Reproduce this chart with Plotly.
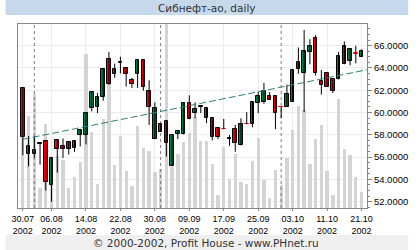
import plotly.graph_objects as go

# ---------------- data ----------------
dates = ["30.07", "31.07",
         "01.08", "02.08", "05.08", "06.08", "07.08", "08.08", "09.08", "12.08", "13.08", "14.08",
         "15.08", "16.08", "19.08", "20.08", "21.08", "22.08", "23.08", "26.08", "27.08", "28.08",
         "29.08", "30.08",
         "02.09", "03.09", "04.09", "05.09", "06.09", "09.09", "10.09", "11.09", "12.09", "13.09",
         "16.09", "17.09", "18.09", "19.09", "20.09", "23.09", "24.09", "25.09", "26.09", "27.09",
         "30.09",
         "01.10", "02.10", "03.10", "04.10", "07.10", "08.10", "09.10", "10.10", "11.10", "14.10",
         "15.10", "16.10", "17.10", "18.10", "21.10"]
year = "2002"

opens = [62.21, 56.98, 56.26, 57.24, 57.44, 53.54, 57.53, 56.98, 57.32, 56.86,
         57.95, 57.95, 60.40, 60.52, 61.43, 64.78, 63.42, 64.48, 64.02, 62.88,
         63.42, 64.69, 61.97, 57.62, 58.95, 59.25, 55.17, 58.04, 58.04, 60.88,
         59.95, 60.56, 60.43, 59.52, 58.62, 58.55, 57.69, 58.53, 57.05, 59.00,
         58.98, 60.88, 60.97, 61.52, 61.52, 60.51, 60.52, 60.97, 63.87, 63.51,
         65.47, 66.68, 62.82, 63.51, 62.97, 62.97, 65.99, 64.60, 65.34, 64.99]
highs = [62.21, 57.89, 57.89, 57.24, 57.44, 55.93, 57.62, 57.68, 57.47, 57.47,
         58.43, 60.00, 61.91, 61.76, 63.93, 65.44, 64.39, 65.02, 64.02, 63.12,
         64.69, 64.69, 62.90, 60.91, 58.95, 59.25, 57.95, 58.34, 60.88, 61.55,
         60.91, 60.56, 60.43, 59.52, 58.62, 59.43, 57.98, 58.89, 59.49, 60.04,
         60.97, 61.85, 62.66, 61.82, 61.52, 60.51, 62.51, 63.84, 65.84, 67.41,
         66.59, 66.95, 63.81, 63.51, 62.97, 65.44, 66.38, 65.78, 65.99, 65.66]
lows = [56.17, 55.17, 55.96, 55.32, 53.00, 52.00, 54.60, 55.93, 56.23, 56.47,
        56.95, 57.14, 60.10, 59.95, 61.06, 62.50, 63.12, 63.51, 62.33, 62.21,
        62.21, 61.97, 58.89, 57.62, 58.28, 56.05, 55.17, 57.62, 58.04, 59.40,
        59.49, 59.95, 59.04, 57.50, 57.62, 58.50, 57.02, 56.47, 57.05, 58.96,
        58.68, 59.95, 60.79, 61.12, 58.50, 59.49, 60.52, 60.97, 63.48, 60.04,
        64.33, 63.33, 61.61, 62.33, 61.76, 62.97, 64.33, 64.24, 64.42, 64.99]
closes = [57.77, 56.26, 56.65, 57.22, 53.81, 55.93, 56.71, 56.71, 56.71, 57.47,
          58.43, 60.00, 61.82, 61.43, 63.93, 62.60, 63.87, 64.57, 63.42, 62.60,
          64.69, 62.30, 60.52, 60.43, 58.28, 57.26, 57.95, 58.34, 60.88, 59.40,
          60.31, 60.54, 59.49, 57.77, 57.83, 58.50, 57.67, 57.29, 58.98, 58.96,
          60.97, 61.52, 61.97, 61.12, 60.00, 60.47, 61.70, 63.84, 64.51, 65.50,
          65.96, 63.57, 62.51, 62.33, 61.97, 65.05, 64.33, 65.69, 65.30, 65.50]
volumes = [228, 276, 342, 61, 252, 138, 155, 145, 61, 94,
           138, 462, 228, 73, 267, 380, 128, 216, 111, 66,
           245, 180, 171, 108, 118, 600, 123, 161, 198, 225,
           273, 201, 201, 131, 39, 183, 87, 162, 78, 72,
           140, 210, 84, 30, 114, 68, 150, 233, 306, 293,
           131, 206, 248, 111, 38, 326, 177, 159, 93, 48]

tick_dates = ["30.07", "06.08", "14.08", "22.08", "30.08", "09.09",
              "17.09", "25.09", "03.10", "11.10", "21.10"]
trend_values = [57.60, 63.74]          # trend line at first and last candle
price_ticks = [52, 54, 56, 58, 60, 62, 64, 66]

# ---------------- styling ----------------
GREEN = "#007f45"
RED = "#ff0000"
VOL = "#d4d4d4"
GRID = "#ececec"
FRAME = "#858585"
W, H = 420, 250
ML, MR, MT, MB = 13, 43, 24, 42
PW, PH = W - ML - MR, H - MT - MB
X_RANGE = [-0.84, 59.95]
Y_RANGE = [51.435, 67.947]
V_RANGE = [0, 552]

n = len(dates)
idx = list(range(n))

fig = go.Figure()

# volume (base axis y, drawn beneath price subplot)
fig.add_trace(go.Bar(x=idx, y=volumes, width=0.58, marker=dict(color=VOL, line=dict(width=0)),
                     yaxis="y", hoverinfo="skip", showlegend=False))

# month separators
mx, my = [], []
for i in range(1, n):
    if dates[i][3:] != dates[i - 1][3:]:
        mx += [i, i, None]
        my += [V_RANGE[0], V_RANGE[1], None]
fig.add_trace(go.Scatter(x=mx, y=my, mode="lines", yaxis="y",
                         line=dict(color="#7a7a7a", width=1, dash="3px,3px"),
                         hoverinfo="skip", showlegend=False))

# wicks
wx, wy = [], []
for i in idx:
    wx += [i, i, None]
    wy += [lows[i], highs[i], None]
fig.add_trace(go.Scatter(x=wx, y=wy, mode="lines", yaxis="y2",
                         line=dict(color="black", width=1), hoverinfo="skip", showlegend=False))

# bodies
base = [min(o, c) for o, c in zip(opens, closes)]
size = [abs(c - o) for o, c in zip(opens, closes)]
fill, edge = [], []
for o, c in zip(opens, closes):
    if abs(c - o) < 0.03:
        fill.append("black"); edge.append("black")
    elif c > o:
        fill.append(GREEN); edge.append("black")
    else:
        fill.append(RED)
        edge.append(RED if abs(c - o) < 0.1 else "black")
fig.add_trace(go.Bar(x=idx, y=size, base=base, width=0.62, yaxis="y2",
                     marker=dict(color=fill, line=dict(color=edge, width=1)),
                     hoverinfo="skip", showlegend=False))

# trend line
slope = (trend_values[1] - trend_values[0]) / (n - 1)
fig.add_trace(go.Scatter(x=[0, X_RANGE[1]],
                         y=[trend_values[0], trend_values[0] + slope * X_RANGE[1]],
                         mode="lines", yaxis="y2",
                         line=dict(color="#2f7f7a", width=1, dash="7px,3px"),
                         hoverinfo="skip", showlegend=False))

tickvals = [dates.index(d) for d in tick_dates]
ticktext = [f"{d}<br>{year}" for d in tick_dates]

def px_x(p):
    return (p - ML) / PW

def px_y(p):
    return (H - MB - p) / PH

fig.update_layout(
    width=W, height=H,
    margin=dict(l=ML, r=MR, t=MT, b=MB),
    paper_bgcolor="white", plot_bgcolor="white",
    barmode="overlay", bargap=0,
    font=dict(family="Liberation Sans, Arial", size=9, color="black"),
    xaxis=dict(range=X_RANGE, tickvals=tickvals, ticktext=ticktext,
               showgrid=True, gridcolor=GRID, gridwidth=1,
               showline=True, linecolor=FRAME, linewidth=1, mirror=True,
               ticks="outside", ticklen=2, tickcolor=FRAME, zeroline=False,
               tickfont=dict(size=9, color="black")),
    yaxis=dict(range=V_RANGE, visible=False, showgrid=False, zeroline=False),
    yaxis2=dict(range=Y_RANGE, overlaying="y", side="right", tickvals=price_ticks,
                tickformat=".4f", showgrid=True, gridcolor=GRID, gridwidth=1,
                showline=True, linecolor=FRAME, linewidth=1, mirror=True,
                ticks="outside", ticklen=4, tickcolor=FRAME, zeroline=False,
                minor=dict(dtick=0.5, ticks="outside", ticklen=2, tickcolor=FRAME, showgrid=False),
                tickfont=dict(size=9.5, color="black")),
    shapes=[
        dict(type="rect", xref="paper", yref="paper", x0=px_x(0), x1=px_x(W),
             y0=px_y(15), y1=px_y(0), fillcolor="#c5d8ec", line=dict(width=0), layer="below"),
        dict(type="rect", xref="paper", yref="paper", x0=px_x(0), x1=px_x(W),
             y0=px_y(H), y1=px_y(235), fillcolor="#efefef", line=dict(width=0), layer="below"),
    ],
    annotations=[
        dict(text="Сибнефт-ао, daily", xref="paper", yref="paper", x=px_x(210), y=px_y(7.5),
             xanchor="center", yanchor="middle", showarrow=False,
             font=dict(family="DejaVu Sans", size=10.5, color="#333333")),
        dict(text="© 2000-2002, Profit House - www.PHnet.ru", xref="paper", yref="paper",
             x=px_x(209), y=px_y(243.5), xanchor="center", yanchor="middle", showarrow=False,
             font=dict(family="DejaVu Sans", size=10.5, color="#333333")),
    ],
)

fig.write_html("out.html")
